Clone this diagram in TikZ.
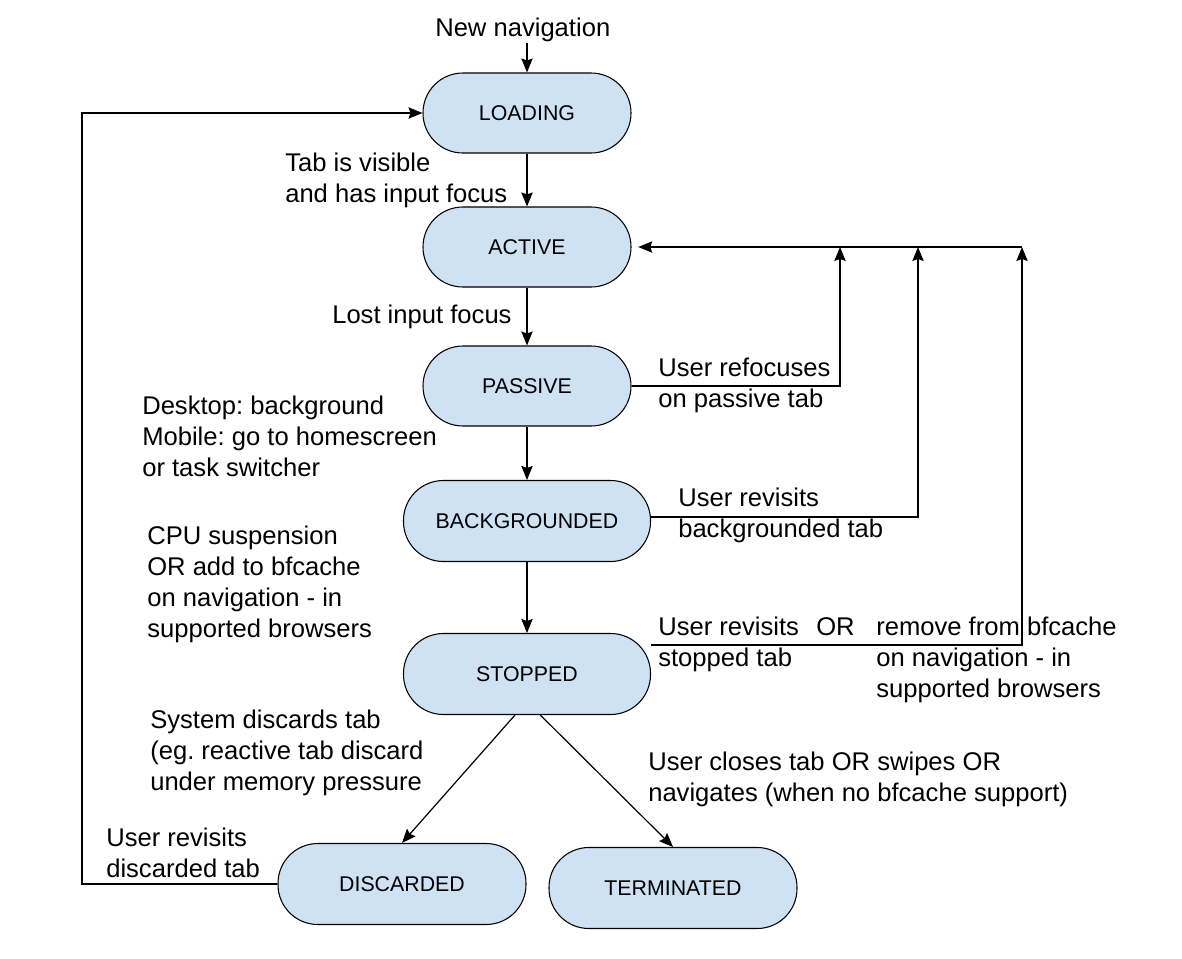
\documentclass[tikz,border=0pt]{standalone}
\usepackage{fontspec}
\setmainfont{Liberation Sans}
\usetikzlibrary{arrows.meta}
\definecolor{stateblue}{RGB}{207,226,243}
\begin{document}
\frenchspacing
\begin{tikzpicture}[x=0.75pt,y=-0.75pt,
  state/.style={draw=black, line width=0.8pt, fill=stateblue, rectangle,
    rounded corners=29.9pt, minimum width=156pt, minimum height=60pt,
    inner sep=0pt, font=\fontsize{16pt}{19pt}\selectfont},
  lbl/.style={anchor=base west, align=left, inner sep=0pt,
    font=\fontsize{19.2pt}{23.1pt}\selectfont\frenchspacing},
  conn/.style={line width=0.9pt, draw=black},
  arr/.style={conn, -{Stealth[length=10.5pt,width=8.5pt,inset=1.5pt]}}]
\useasboundingbox (0,0) rectangle (1182,958);
\fill[white] (0,0) rectangle (1182,958);

% states
\node[state] (loading) at (527,113) {LOADING};
\node[state] (active) at (527,247) {ACTIVE};
\node[state] (passive) at (527,386) {PASSIVE};
\node[state, minimum width=185.25pt, minimum height=60.75pt] (bg) at (527,521) {BACKGROUNDED};
\node[state, minimum width=185.25pt, minimum height=60.75pt] (stopped) at (527,674) {STOPPED};
\node[state, minimum width=186pt, minimum height=60.75pt] (discarded) at (402,884) {DISCARDED};
\node[state, minimum width=186pt, minimum height=60.75pt] (terminated) at (673,888) {TERMINATED};

% labels (anchored at the baseline of their last line)
\node[lbl] (newnav) at (435,36) {New navigation};
\node[lbl] (tabvis) at (285,202) {Tab is visible\\and has input focus};
\node[lbl] (lost) at (332,323) {Lost input focus};
\node[lbl] (desk) at (142,476) {Desktop: background\\Mobile: go to homescreen\\or task switcher};
\node[lbl] (cpu) at (147,637) {CPU suspension\\OR add to bfcache\\on navigation - in\\supported browsers};
\node[lbl] (sys) at (150,790) {System discards tab\\(eg. reactive tab discard\\under memory pressure};
\node[lbl] (close) at (648,801) {User closes tab OR swipes OR\\navigates (when no bfcache support)};
\node[lbl] (refoc) at (658,407) {User refocuses\\on passive tab};
\node[lbl] (revbg) at (678,537) {User revisits\\backgrounded tab};
\node[lbl] (revst) at (658,666) {User revisits\hspace{12.9pt}OR\\stopped tab};
\node[lbl] (rmbf) at (876,697) {remove from bfcache\\on navigation - in\\supported browsers};
\node[lbl] (revdis) at (106,877) {User revisits\\discarded tab};

% helper coordinates
\coordinate (navtop) at (527,43);
\coordinate (r1) at (840,247);
\coordinate (r2) at (918,247);
\coordinate (r3) at (1022,247);
\coordinate (lcorner) at (82,884);

% main vertical flow
\draw[arr] (navtop) -- (loading.north);
\draw[arr] (loading.south) -- (active.north);
\draw[arr] (active.south) -- (passive.north);
\draw[arr] (passive.south) -- (bg.north);
\draw[arr] (bg.south) -- (stopped.north);
\draw[arr] ([xshift=-9pt]stopped.south) -- (discarded.north);
\draw[arr] ([xshift=10pt]stopped.south) -- (terminated.north);

% returns to ACTIVE
\draw[arr] (passive.east) -| (r1);
\draw[arr] ([yshift=3pt]bg.east) -| (r2);
\draw[arr] ([yshift=-9pt]stopped.north east) -| (r3);
\draw[arr, shorten >=5pt] (r3) -- (active.east);

% discarded back to loading
\draw[arr] (discarded.west) -- (lcorner) |- (loading.west);
\end{tikzpicture}
\end{document}
